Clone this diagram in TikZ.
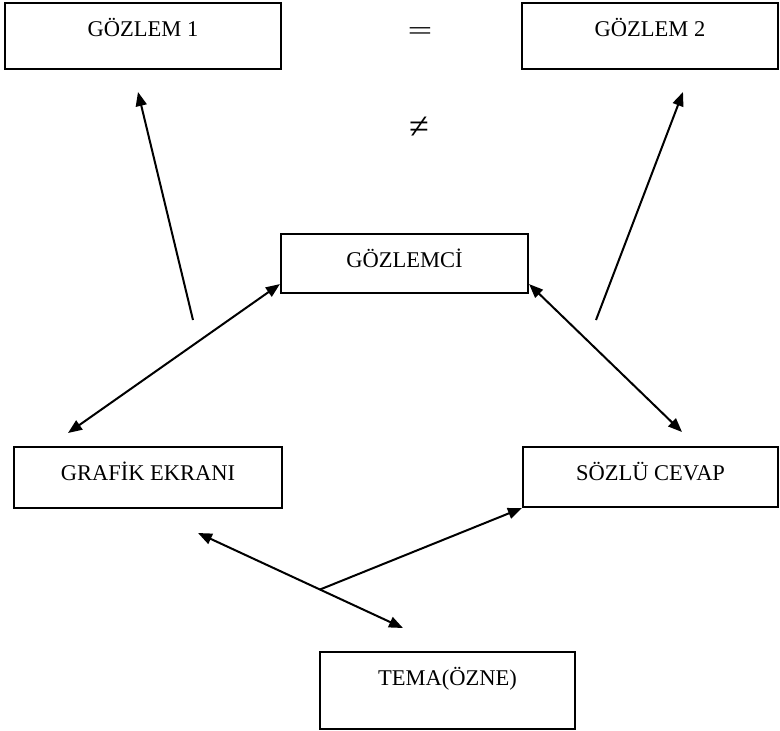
\documentclass[tikz,border=0pt]{standalone}
\usepackage{fontspec}
\setmainfont{Liberation Serif}
\usepackage{tikz}
\usetikzlibrary{arrows.meta}
\usetikzlibrary{calc}
\tikzstyle{kutu}=[draw,rectangle,line width=2.2pt,inner sep=0pt,text height=33pt,font=\fontsize{22.5}{26}\selectfont]
\tikzstyle{tekok} = [draw,line width=2pt,-{Triangle[length=14pt,width=11pt]}]
\tikzstyle{ciftok} = [draw,line width=2pt,{Triangle[length=14pt,width=11pt]}-{Triangle[length=14pt,width=11pt]}]
\tikzstyle{isaret} = [inner sep=0pt]

\begin{document}
\begin{tikzpicture}[x=1pt, y=-1pt]

    \useasboundingbox (0,0) rectangle (780,731);

    % kutular: ad / merkez x / merkez y / genislik / derinlik / metin
    \foreach \ad/\x/\y/\gen/\derin/\metin in { gozlem1/143/36/276/33/GÖZLEM 1, gozlem2/650/36/256/33/GÖZLEM 2, gozlemci/404.5/263.5/247/26/GÖZLEMCİ, grafik/148/477.5/268/28/GRAFİK EKRANI, sozlu/650.5/477/255/27/SÖZLÜ CEVAP, tema/447.5/690.5/255/44/TEMA(ÖZNE) }
        \node[kutu, minimum width=\gen pt, text depth=\derin pt] (\ad) at (\x,\y) {\metin};

    \node[isaret, font=\fontsize{20}{22}\selectfont] (esit) at (420,34) {\scalebox{2.2}[1.3]{=}};
    \node[isaret, font=\fontsize{36}{38}\selectfont] (esitdegil) at (419,128) {≠};

    % serbest uclar
    \coordinate (k1) at (193,320);
    \coordinate (u1) at (138,92);
    \coordinate (k2) at (596,320);
    \coordinate (u2) at (683,92);
    \coordinate (g1) at (68,433);
    \coordinate (s1) at (682,432);
    \coordinate (g2) at (198,533);
    \coordinate (t1) at (403,628);
    \coordinate (kes) at ($(g2)!0.595!(t1)$);

    \path[tekok] (k1) -- (u1);
    \path[tekok] (k2) -- (u2);
    \path[ciftok] (g1) -- ([yshift=10pt]gozlemci.south west);
    \path[ciftok] ([yshift=10pt]gozlemci.south east) -- (s1);
    \path[ciftok] (g2) -- (t1);
    \path[tekok] (kes) -- (sozlu.south west);

\end{tikzpicture}
\end{document}
